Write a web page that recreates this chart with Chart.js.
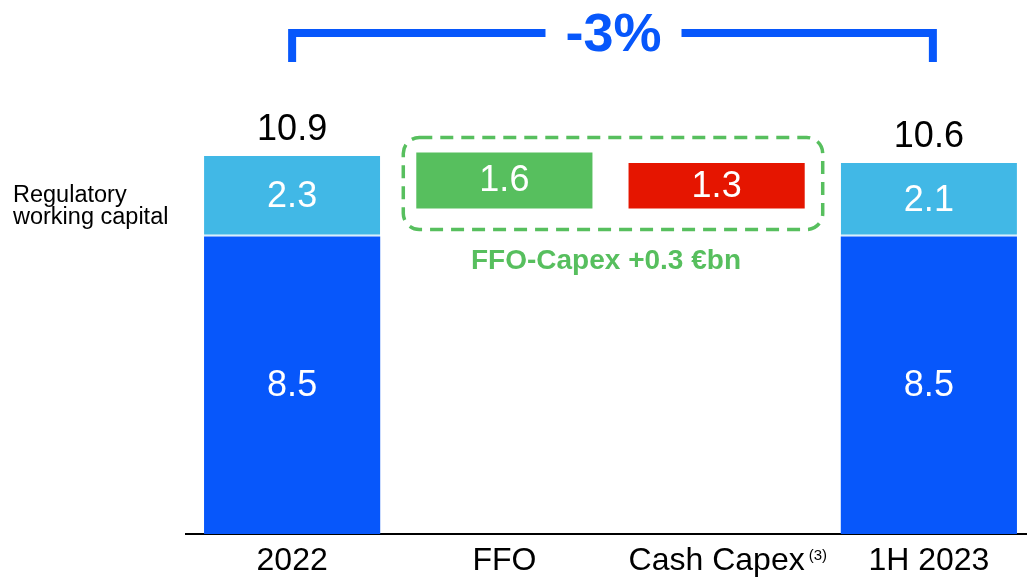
<!DOCTYPE html>
<html>
<head>
<meta charset="utf-8">
<script src="https://cdn.jsdelivr.net/npm/chart.js@4.4.0/dist/chart.umd.min.js"></script>
<style>
  html, body { margin: 0; padding: 0; background: #fff; overflow: hidden; }
  #wrap { width: 1040px; height: 578px; position: relative; }
</style>
</head>
<body>
<div id="wrap"><canvas id="bridge"></canvas></div>
<script>
const categories = ['2022', 'FFO', 'Cash Capex', '1H 2023'];
const regulatedBase = [8.5, null, null, 8.5];
const workingCapital = [2.3, null, null, 2.1];
const ffo = [null, 1.6, null, null];
const cashCapex = [null, null, 1.3, null];
const totals = [10.9, null, null, 10.6];

const BLUE = '#0757fb';
const LIGHT_BLUE = '#41b8e6';
const GREEN = '#57bf5e';
const RED = '#e51500';
const FONT = '"Liberation Sans", Arial, sans-serif';

// waterfall: FFO takes the debt down from the 2022 total, capex puts it back up
const ffoStart = totals[0];
const ffoEnd = ffoStart - ffo[1];
const ffoRange = ffo.map(v => v == null ? null : [ffoEnd, ffoStart]);
const capexRange = cashCapex.map(v => v == null ? null : [ffoEnd, ffoEnd + v]);
const baseRange = regulatedBase.map(v => v == null ? null : [0, v]);
const wcRange = workingCapital.map((v, i) => v == null ? null : [regulatedBase[i], regulatedBase[i] + v]);

const valueSets = [regulatedBase, workingCapital, ffo, cashCapex];

const overlay = {
  id: 'overlay',
  afterDatasetsDraw(chart) {
    const ctx = chart.ctx;
    const x = chart.scales.x;
    ctx.save();

    // numbers inside bars
    ctx.font = '36px ' + FONT;
    ctx.fillStyle = '#fff';
    ctx.textAlign = 'center';
    ctx.textBaseline = 'middle';
    chart.data.datasets.forEach((ds, di) => {
      chart.getDatasetMeta(di).data.forEach((el, i) => {
        const v = valueSets[di][i];
        if (v == null) return;
        ctx.fillText(v.toFixed(1), el.x, (el.y + el.base) / 2 + 1);
      });
    });

    // totals above the stacks
    const wcMeta = chart.getDatasetMeta(1);
    ctx.fillStyle = '#000';
    totals.forEach((t, i) => {
      if (t == null) return;
      const el = wcMeta.data[i];
      ctx.fillText(t.toFixed(1), el.x, el.y - 26);
    });

    // left label
    const wc0 = wcMeta.data[0];
    const mid = (wc0.y + wc0.base) / 2;
    ctx.font = '23.5px ' + FONT;
    ctx.textAlign = 'left';
    ctx.textBaseline = 'alphabetic';
    ctx.fillText('Regulatory', 13, mid + 6);
    ctx.fillText('working capital', 13, mid + 28);

    // dashed box around FFO and capex
    const f = chart.getDatasetMeta(2).data[1];
    const c = chart.getDatasetMeta(3).data[2];
    const bx0 = f.x - f.width / 2 - 13;
    const bx1 = c.x + c.width / 2 + 18;
    const by0 = f.y - 15;
    const by1 = f.base + 21;
    ctx.strokeStyle = GREEN;
    ctx.lineWidth = 3.5;
    ctx.setLineDash([13, 8]);
    ctx.beginPath();
    ctx.roundRect(bx0, by0, bx1 - bx0, by1 - by0, 16);
    ctx.stroke();
    ctx.setLineDash([]);

    ctx.fillStyle = GREEN;
    ctx.font = 'bold 28px ' + FONT;
    ctx.textAlign = 'center';
    ctx.textBaseline = 'middle';
    const net = ffo[1] - cashCapex[2];
    ctx.fillText('FFO-Capex +' + net.toFixed(1) + ' \u20acbn', (bx0 + bx1) / 2 - 7, by1 + 32);

    // bracket with change
    const lx = x.getPixelForValue(0);
    const rx = x.getPixelForValue(3) + 4;
    const cx = (lx + rx) / 2 + 1;
    const ty = 33;
    const change = Math.round((totals[3] - totals[0]) / totals[0] * 100);
    const label = (change > 0 ? '+' : '') + change + '%';
    ctx.font = 'bold 54px ' + FONT;
    const tw = ctx.measureText(label).width;
    ctx.strokeStyle = BLUE;
    ctx.lineWidth = 8;
    ctx.lineCap = 'butt';
    ctx.lineJoin = 'miter';
    ctx.beginPath();
    ctx.moveTo(lx, 62);
    ctx.lineTo(lx, ty);
    ctx.lineTo(cx - tw / 2 - 20, ty);
    ctx.moveTo(cx + tw / 2 + 20, ty);
    ctx.lineTo(rx, ty);
    ctx.lineTo(rx, 62);
    ctx.stroke();
    ctx.fillStyle = BLUE;
    ctx.fillText(label, cx, ty + 3);

    // footnote marker on the capex tick
    ctx.font = '32px ' + FONT;
    const lw = ctx.measureText(categories[2]).width;
    ctx.font = '15px ' + FONT;
    ctx.fillStyle = '#000';
    ctx.textAlign = 'left';
    ctx.fillText('(3)', x.getPixelForValue(2) + lw / 2 + 4, 556);

    ctx.restore();
  }
};

new Chart(document.getElementById('bridge'), {
  type: 'bar',
  data: {
    labels: categories,
    datasets: [
      { label: 'Net debt', data: baseRange, backgroundColor: BLUE },
      { label: 'Regulatory working capital', data: wcRange, backgroundColor: LIGHT_BLUE,
        borderColor: '#d8eefc', borderWidth: { bottom: 2 }, borderSkipped: false },
      { label: 'FFO', data: ffoRange, backgroundColor: GREEN },
      { label: 'Cash Capex', data: capexRange, backgroundColor: RED }
    ]
  },
  options: {
    responsive: true,
    maintainAspectRatio: false,
    animation: false,
    grouped: false,
    barPercentage: 0.83,
    categoryPercentage: 1,
    layout: { padding: { left: 186, right: 5, top: 9, bottom: 0 } },
    plugins: {
      legend: { display: false },
      tooltip: { enabled: false }
    },
    scales: {
      x: {
        grid: { display: false, drawTicks: false },
        border: { display: true, color: '#000', width: 2 },
        ticks: { color: '#000', padding: 8, font: { size: 32, family: FONT } },
        afterFit: s => { s.height = 44; }
      },
      y: {
        display: false,
        min: 0,
        max: 15
      }
    }
  },
  plugins: [overlay]
});
</script>
</body>
</html>
